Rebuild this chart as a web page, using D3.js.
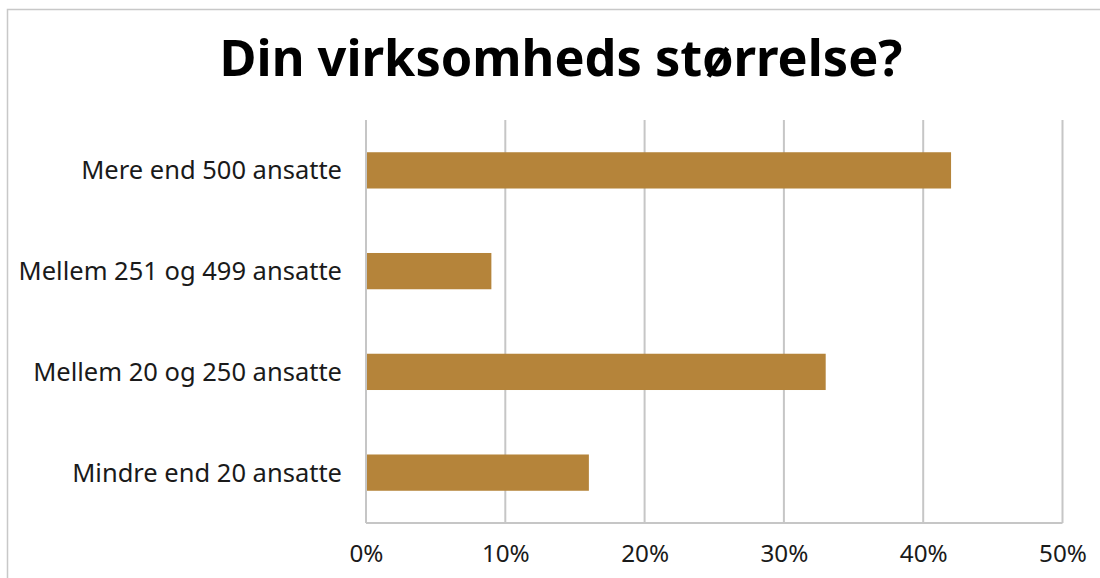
<!DOCTYPE html>
<html>
<head>
<meta charset="utf-8">
<script src="https://cdn.jsdelivr.net/npm/d3@7"></script>
<style>
  html, body { margin: 0; padding: 0; background: #fff; }
  svg { display: block; }
  text { font-family: "Noto Sans", "DejaVu Sans", sans-serif; }
</style>
</head>
<body>
<svg id="chart" width="1100" height="578"></svg>
<script>
// Survey answers: company size, share of respondents
const categories = [
  "Mere end 500 ansatte",
  "Mellem 251 og 499 ansatte",
  "Mellem 20 og 250 ansatte",
  "Mindre end 20 ansatte"
];
const shares = [0.42, 0.09, 0.33, 0.16];
const tickValues = [0, 0.1, 0.2, 0.3, 0.4, 0.5];
const titleText = "Din virksomheds størrelse?";

const W = 1100, H = 578;
const plot = { left: 366, right: 1062.5, top: 120, bottom: 523 };
const barColor = "#B5843A";
const gridColor = "#c6c6c6";

const svg = d3.select("#chart");

// outer frame of the chart area
svg.append("rect")
  .attr("x", 7.5).attr("y", 9.5)
  .attr("width", W).attr("height", H)
  .attr("fill", "#fff")
  .attr("stroke", "#c8c8c8").attr("stroke-width", 1.5);

const x = d3.scaleLinear().domain([0, 0.5]).range([plot.left, plot.right]);
const y = d3.scaleBand().domain(categories).range([plot.top, plot.bottom]).paddingInner(0.64).paddingOuter(0.32);

// vertical gridlines
svg.append("g")
  .selectAll("line")
  .data(tickValues)
  .join("line")
  .attr("x1", d => x(d)).attr("x2", d => x(d))
  .attr("y1", plot.top).attr("y2", plot.bottom)
  .attr("stroke", gridColor).attr("stroke-width", 2);

// bottom baseline
svg.append("line")
  .attr("x1", plot.left).attr("x2", plot.right)
  .attr("y1", plot.bottom).attr("y2", plot.bottom)
  .attr("stroke", gridColor).attr("stroke-width", 2);

// bars
svg.append("g")
  .selectAll("rect")
  .data(categories)
  .join("rect")
  .attr("x", x(0) + 1)
  .attr("y", d => y(d))
  .attr("width", (d, i) => x(shares[i]) - x(0) - 1)
  .attr("height", y.bandwidth())
  .attr("fill", barColor);

// fit a text element to a target width by tuning its font size
function fitWidth(sel, target) {
  const node = sel.node();
  const fs = parseFloat(sel.attr("font-size"));
  const w = node.getComputedTextLength();
  sel.attr("font-size", fs * target / w);
}

// x-axis tick labels
const xAxis = d3.axisBottom(x).tickValues(tickValues).tickFormat(d3.format(".0%")).tickSize(0).tickPadding(0);
const gx = svg.append("g").attr("transform", `translate(0, 562)`).call(xAxis);
gx.select(".domain").remove();
gx.selectAll("text")
  .attr("dy", 0).attr("y", 0)
  .attr("font-size", 21).attr("fill", "#1a1a1a")
  .style("font-family", "'Noto Sans', sans-serif");

// category labels
const yAxis = d3.axisLeft(y).tickSize(0).tickPadding(0);
const gy = svg.append("g").attr("transform", `translate(342, 0)`).call(yAxis);
gy.select(".domain").remove();
gy.selectAll("text")
  .attr("dy", "0.35em")
  .attr("font-size", 22).attr("fill", "#1a1a1a")
  .style("font-family", "'Noto Sans', sans-serif");
const lbl = gy.selectAll("text").filter(d => d === "Mindre end 20 ansatte");
const scale = 270 / lbl.node().getComputedTextLength();
gy.selectAll("text").attr("font-size", 22 * scale);

// "0%" label spans about 34px
const t0 = gx.selectAll("text").filter(d => d === 0);
const s0 = 34 / t0.node().getComputedTextLength();
gx.selectAll("text").attr("font-size", 21 * s0);

// title
const title = svg.append("text")
  .attr("x", 561).attr("y", 76)
  .attr("text-anchor", "middle")
  .attr("font-size", 44).attr("font-weight", "bold")
  .attr("fill", "#000")
  .text(titleText);
fitWidth(title, 683);
</script>
</body>
</html>
